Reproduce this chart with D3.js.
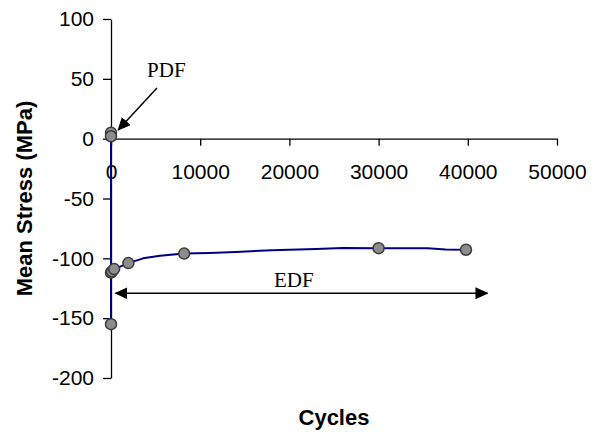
<!DOCTYPE html>
<html lang="en">
<head>
    <meta charset="UTF-8">
    <script src="https://d3js.org/d3.v7.min.js"></script>
    <title>Mean Stress vs Cycles</title>
</head>
<style>
    body {
      margin: 0;
      background: #fff;
    }
    .axis path,
    .axis line {
      fill: none;
      stroke: #000;
      stroke-width: 1.3px;
    }
    .axis text {
      font-family: Arial, "Liberation Sans", sans-serif;
      font-size: 21px;
      fill: #000;
    }
    .title {
      font-family: Arial, "Liberation Sans", sans-serif;
      font-size: 22px;
      font-weight: bold;
    }
    .note {
      font-family: "Times New Roman", "Liberation Serif", serif;
      font-size: 21px;
    }
</style>
<body>
<div class="chart"></div>
<script>
  // values
  var xTicks = [0, 10000, 20000, 30000, 40000, 50000];
  var yTicks = [-200, -150, -100, -50, 0, 50, 100];

  // measured points (markers)
  var pointCycles = [0, 0, 0, 0, 100, 350, 1950, 8200, 30000, 39800];
  var pointStress = [5, 2, -155, -112, -111, -109, -104, -96, -91.5, -92.8];

  // trend line as drawn
  var lineCycles = [0, 0, 0, 0, 100, 350, 1950, 3600, 5500, 8200, 11000, 14000, 18000, 23000, 26000, 30000, 35500, 37500, 39800];
  var lineStress = [5, 0, -155, -112, -111, -109, -104, -100, -97.8, -96, -95.5, -94.7, -93.2, -92.2, -91.4, -91.5, -91.5, -92.6, -92.8];

  // annotations: [x1, y1, x2, y2] in data units
  var pdfArrow = [5150, 42.4, 800, 7.3];
  var pdfLabel = [6200, 51.5, "PDF"];
  var edfArrow = [500, -129.2, 42200, -129.2];
  var edfLabel = [20500, -123.6, "EDF"];

  var width = 599, height = 432;

  var x = d3.scaleLinear().domain([0, 50000]).range([111, 557]);
  var y = d3.scaleLinear().domain([-200, 100]).range([378, 19]);

  // plain hyphen for negatives, like the original
  var fmt = function(d) { return String(d); };

  var svg = d3.select(".chart").append("svg")
      .attr("width", width)
      .attr("height", height)
      .style("display", "block");

  var defs = svg.append("defs");
  ["end", "start"].forEach(function(k) {
    defs.append("marker")
        .attr("id", "head-" + k)
        .attr("markerUnits", "userSpaceOnUse")
        .attr("viewBox", "0 -6 13 12")
        .attr("refX", 12)
        .attr("refY", 0)
        .attr("markerWidth", 13)
        .attr("markerHeight", 12)
        .attr("orient", k == "end" ? "auto" : "auto-start-reverse")
      .append("path")
        .attr("d", "M0,-6L13,0L0,6Z")
        .attr("fill", "#000");
  });

  // x-axis through zero
  svg.append("g")
      .attr("class", "x axis")
      .attr("transform", "translate(0," + y(0) + ")")
      .call(d3.axisBottom(x).tickValues(xTicks).tickSize(7).tickSizeOuter(0).tickPadding(18)
        .tickFormat(fmt));

  // y-axis
  svg.append("g")
      .attr("class", "y axis")
      .attr("transform", "translate(" + x(0) + ",0)")
      .call(d3.axisLeft(y).tickValues(yTicks).tickSize(8).tickSizeOuter(0).tickPadding(9)
        .tickFormat(fmt));

  svg.append("text")
      .attr("class", "title")
      .attr("transform", "translate(32," + ((y(100) + y(-200)) / 2) + ") rotate(-90)")
      .style("text-anchor", "middle")
      .text("Mean Stress (MPa)");

  svg.append("text")
      .attr("class", "title")
      .attr("x", (x(0) + x(50000)) / 2)
      .attr("y", 425)
      .style("text-anchor", "middle")
      .text("Cycles");

  // line
  var line = d3.line()
      .x(function(d) { return x(d[0]); })
      .y(function(d) { return y(d[1]); });

  svg.append("path")
      .datum(d3.zip(lineCycles, lineStress))
      .attr("d", line)
      .attr("fill", "none")
      .attr("stroke", "#000080")
      .attr("stroke-width", 2)
      .attr("stroke-linejoin", "round");

  // markers
  svg.selectAll(".dot")
      .data(d3.zip(pointCycles, pointStress))
    .enter().append("circle")
      .attr("class", "dot")
      .attr("cx", function(d) { return x(d[0]); })
      .attr("cy", function(d) { return y(d[1]); })
      .attr("r", 5.5)
      .attr("fill", "#8c8c8c")
      .attr("stroke", "#3c3c3c")
      .attr("stroke-width", 1.5);

  // annotations
  svg.append("line")
      .attr("x1", x(pdfArrow[0])).attr("y1", y(pdfArrow[1]))
      .attr("x2", x(pdfArrow[2])).attr("y2", y(pdfArrow[3]))
      .attr("stroke", "#000")
      .attr("stroke-width", 1.5)
      .attr("marker-end", "url(#head-end)");

  svg.append("text")
      .attr("class", "note")
      .attr("x", x(pdfLabel[0]))
      .attr("y", y(pdfLabel[1]))
      .style("text-anchor", "middle")
      .text(pdfLabel[2]);

  svg.append("line")
      .attr("x1", x(edfArrow[0])).attr("y1", y(edfArrow[1]))
      .attr("x2", x(edfArrow[2])).attr("y2", y(edfArrow[3]))
      .attr("stroke", "#000")
      .attr("stroke-width", 1.5)
      .attr("marker-start", "url(#head-start)")
      .attr("marker-end", "url(#head-end)");

  svg.append("text")
      .attr("class", "note")
      .attr("x", x(edfLabel[0]))
      .attr("y", y(edfLabel[1]))
      .style("text-anchor", "middle")
      .text(edfLabel[2]);
</script>
</body>
</html>
